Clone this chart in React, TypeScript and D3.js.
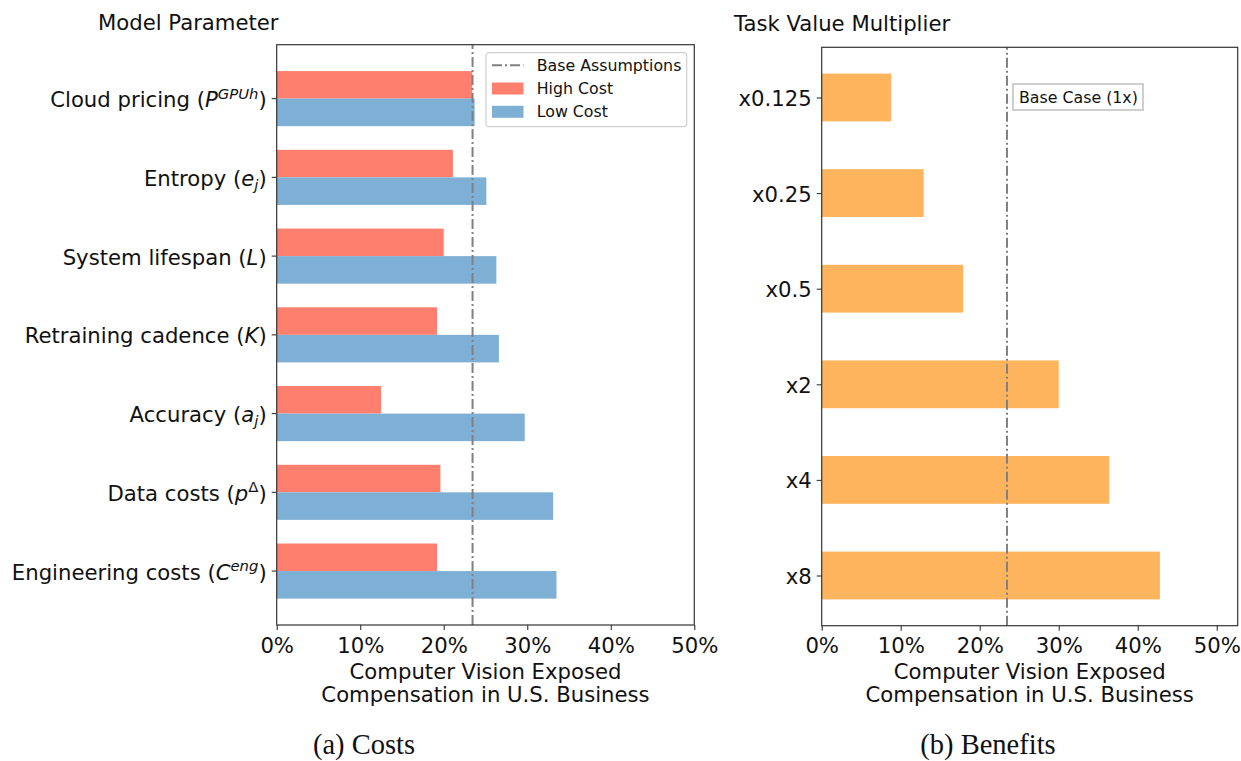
import React, { useRef, useEffect } from 'react';
import * as d3 from 'd3';

// Costs panel (bottom → top)
const COST_LABELS = [
  'Engineering costs',
  'Data costs',
  'Accuracy',
  'Retraining cadence',
  'System lifespan',
  'Entropy',
  'Cloud pricing',
];
// math symbol shown in parentheses: base letter + optional sup / sub
const COST_SYMBOLS = [
  { base: 'C', sup: 'eng' },
  { base: 'p', sup: 'Δ', upright: true },
  { base: 'a', sub: 'j' },
  { base: 'K' },
  { base: 'L' },
  { base: 'e', sub: 'j' },
  { base: 'P', sup: 'GPUh' },
];
const HIGH_COST = [19.2, 19.6, 12.5, 19.2, 20.0, 21.1, 23.4];
const LOW_COST = [33.5, 33.1, 29.7, 26.6, 26.3, 25.1, 23.7];

// Benefits panel (bottom → top)
const MULTIPLIERS = ['x8', 'x4', 'x2', 'x0.5', 'x0.25', 'x0.125'];
const BENEFIT_VALUES = [42.8, 36.4, 30.0, 17.9, 12.9, 8.8];

const BASE_VALUE = 23.45;
const X_TICKS = [0, 10, 20, 30, 40, 50];

const W = 1241;
const H = 761;
const FONT = '"DejaVu Sans", sans-serif';
const SERIF = '"Liberation Serif", "Times New Roman", serif';
const FS = 21.2;
const LFS = 15.8;
const RED = '#FF7F6F';
const BLUE = '#7EB0D5';
const ORANGE = '#FDB45C';
const GREY = '#808080';
const DASHDOT = '10,3,2,3';

const App: React.FC = () => {
  const ref = useRef<SVGSVGElement>(null);

  useEffect(() => {
    document.body.style.margin = '0';
    if (!ref.current) return;
    const svg = d3.select(ref.current);
    svg.selectAll('*').remove();

    const drawXAxis = (
      g: d3.Selection<SVGGElement, unknown, null, undefined>,
      x: d3.ScaleLinear<number, number>,
      y0: number
    ) => {
      const ax = g
        .append('g')
        .attr('transform', `translate(0,${y0})`)
        .call(
          d3
            .axisBottom(x)
            .tickValues(X_TICKS)
            .tickSize(5)
            .tickPadding(6)
            .tickFormat((d) => `${d}%`)
        );
      ax.select('.domain').remove();
      ax.selectAll('.tick line').attr('stroke', '#333').attr('stroke-width', 1.1);
      ax.selectAll('text')
        .style('font-size', `${FS}px`)
        .style('font-family', FONT)
        .attr('fill', '#111')
        .attr('dy', '0.78em');
      const cx = (x.range()[0] + x.range()[1]) / 2;
      const lines = ['Computer Vision Exposed', 'Compensation in U.S. Business'];
      lines.forEach((t, i) => {
        g.append('text')
          .attr('x', cx)
          .attr('y', 679 + i * 22.5)
          .attr('text-anchor', 'middle')
          .style('font-size', `${FS}px`)
          .style('font-family', FONT)
          .attr('fill', '#111')
          .text(t);
      });
    };

    const frame = (
      g: d3.Selection<SVGGElement, unknown, null, undefined>,
      x: d3.ScaleLinear<number, number>,
      y: d3.ScaleLinear<number, number>
    ) => {
      const [x0, x1] = x.range();
      const [yb, yt] = y.range();
      g.append('rect')
        .attr('x', x0)
        .attr('y', yt)
        .attr('width', x1 - x0)
        .attr('height', yb - yt)
        .attr('fill', 'none')
        .attr('stroke', '#333')
        .attr('stroke-width', 1.2);
    };

    const baseLine = (
      g: d3.Selection<SVGGElement, unknown, null, undefined>,
      x: d3.ScaleLinear<number, number>,
      y: d3.ScaleLinear<number, number>
    ) => {
      g.append('line')
        .attr('x1', x(BASE_VALUE))
        .attr('x2', x(BASE_VALUE))
        .attr('y1', y.range()[0])
        .attr('y2', y.range()[1])
        .attr('stroke', GREY)
        .attr('stroke-width', 2)
        .attr('stroke-dasharray', DASHDOT);
    };

    // ---------- Left panel: costs ----------
    const left = svg.append('g');
    const xL = d3.scaleLinear().domain([0, 50]).range([276.7, 694.3]);
    const yL = d3.scaleLinear().domain([-0.685, COST_LABELS.length - 1 + 0.685]).range([625, 44.7]);
    const bh = 0.35;

    left
      .selectAll('.high')
      .data(HIGH_COST)
      .enter()
      .append('rect')
      .attr('x', xL(0))
      .attr('y', (_, i) => yL(i + bh))
      .attr('width', (d) => xL(d) - xL(0))
      .attr('height', yL(0) - yL(bh))
      .attr('fill', RED);

    left
      .selectAll('.low')
      .data(LOW_COST)
      .enter()
      .append('rect')
      .attr('x', xL(0))
      .attr('y', (_, i) => yL(i))
      .attr('width', (d) => xL(d) - xL(0))
      .attr('height', yL(0) - yL(bh))
      .attr('fill', BLUE);

    baseLine(left, xL, yL);
    frame(left, xL, yL);

    // y ticks with math labels
    COST_LABELS.forEach((label, i) => {
      const yy = yL(i);
      left
        .append('line')
        .attr('x1', xL(0) - 5)
        .attr('x2', xL(0))
        .attr('y1', yy)
        .attr('y2', yy)
        .attr('stroke', '#333')
        .attr('stroke-width', 1.1);
      const sym = COST_SYMBOLS[i];
      const t = left
        .append('text')
        .attr('x', xL(0) - 10)
        .attr('y', yy + 8.5)
        .attr('text-anchor', 'end')
        .style('font-size', `${FS}px`)
        .style('font-family', FONT)
        .attr('fill', '#111');
      t.append('tspan').text(`${label} (`);
      t.append('tspan').attr('font-style', 'italic').text(sym.base);
      if (sym.sup) {
        t.append('tspan')
          .attr('font-style', sym.upright ? 'normal' : 'italic')
          .attr('font-size', `${FS * 0.7}px`)
          .attr('dy', -8.5)
          .text(sym.sup);
        t.append('tspan').attr('dy', 8.5).text(')');
      } else if (sym.sub) {
        t.append('tspan')
          .attr('font-style', 'italic')
          .attr('font-size', `${FS * 0.7}px`)
          .attr('dy', 4)
          .text(sym.sub);
        t.append('tspan').attr('dy', -4).text(')');
      } else {
        t.append('tspan').text(')');
      }
    });

    drawXAxis(left, xL, 625);

    left
      .append('text')
      .attr('x', 98)
      .attr('y', 29.5)
      .style('font-size', `${FS}px`)
      .style('font-family', FONT)
      .attr('fill', '#111')
      .text('Model Parameter');

    // legend
    const lg = left.append('g').attr('transform', 'translate(486,52.7)');
    lg.append('rect')
      .attr('width', 200.7)
      .attr('height', 74)
      .attr('rx', 3)
      .attr('fill', 'white')
      .attr('fill-opacity', 0.8)
      .attr('stroke', '#d0d0d0')
      .attr('stroke-width', 1.2);
    const legendItems = [
      { label: 'Base Assumptions', kind: 'line', color: GREY },
      { label: 'High Cost', kind: 'rect', color: RED },
      { label: 'Low Cost', kind: 'rect', color: BLUE },
    ];
    legendItems.forEach((it, i) => {
      const cy = 12.5 + i * 23.3;
      if (it.kind === 'line') {
        lg.append('line')
          .attr('x1', 6)
          .attr('x2', 37.5)
          .attr('y1', cy)
          .attr('y2', cy)
          .attr('stroke', it.color)
          .attr('stroke-width', 2)
          .attr('stroke-dasharray', DASHDOT);
      } else {
        lg.append('rect')
          .attr('x', 6)
          .attr('y', cy - 6)
          .attr('width', 31.5)
          .attr('height', 12)
          .attr('fill', it.color);
      }
      lg.append('text')
        .attr('x', 50.7)
        .attr('y', cy + 5.5)
        .style('font-size', `${LFS}px`)
        .style('font-family', FONT)
        .attr('fill', '#111')
        .text(it.label);
    });

    left
      .append('text')
      .attr('x', 364)
      .attr('y', 754)
      .attr('text-anchor', 'middle')
      .style('font-size', '28.5px')
      .style('font-family', SERIF)
      .attr('fill', '#111')
      .text('(a) Costs');

    // ---------- Right panel: benefits ----------
    const right = svg.append('g');
    const xR = d3.scaleLinear().domain([0, 52.65]).range([821.7, 1237.7]);
    const yR = d3.scaleLinear().domain([-0.525, MULTIPLIERS.length - 1 + 0.525]).range([625.7, 47.3]);

    right
      .selectAll('.ben')
      .data(BENEFIT_VALUES)
      .enter()
      .append('rect')
      .attr('x', xR(0))
      .attr('y', (_, i) => yR(i + 0.25))
      .attr('width', (d) => xR(d) - xR(0))
      .attr('height', yR(0) - yR(0.5))
      .attr('fill', ORANGE);

    baseLine(right, xR, yR);
    frame(right, xR, yR);

    const yAx = right
      .append('g')
      .attr('transform', `translate(${xR(0)},0)`)
      .call(
        d3
          .axisLeft(yR)
          .tickValues(d3.range(MULTIPLIERS.length))
          .tickSize(5)
          .tickPadding(5)
          .tickFormat((d) => MULTIPLIERS[d as number])
      );
    yAx.select('.domain').remove();
    yAx.selectAll('.tick line').attr('stroke', '#333').attr('stroke-width', 1.1);
    yAx.selectAll('text')
      .style('font-size', `${FS}px`)
      .style('font-family', FONT)
      .attr('fill', '#111')
      .attr('dy', '0.38em');

    drawXAxis(right, xR, 625.7);

    // annotation
    const ann = right.append('g').attr('transform', `translate(${xR(BASE_VALUE) + 6},84)`);
    ann.append('rect')
      .attr('width', 130)
      .attr('height', 26)
      .attr('fill', 'white')
      .attr('stroke', '#cfcfcf')
      .attr('stroke-width', 2);
    ann.append('text')
      .attr('x', 6)
      .attr('y', 18.5)
      .style('font-size', `${LFS}px`)
      .style('font-family', FONT)
      .attr('fill', '#111')
      .text('Base Case (1x)');

    right
      .append('text')
      .attr('x', 734)
      .attr('y', 30.7)
      .style('font-size', `${FS}px`)
      .style('font-family', FONT)
      .attr('fill', '#111')
      .text('Task Value Multiplier');

    right
      .append('text')
      .attr('x', 988)
      .attr('y', 754)
      .attr('text-anchor', 'middle')
      .style('font-size', '28.5px')
      .style('font-family', SERIF)
      .attr('fill', '#111')
      .text('(b) Benefits');
  }, []);

  return <svg ref={ref} width={W} height={H} style={{ display: 'block', background: 'white' }} />;
};

export default App;
